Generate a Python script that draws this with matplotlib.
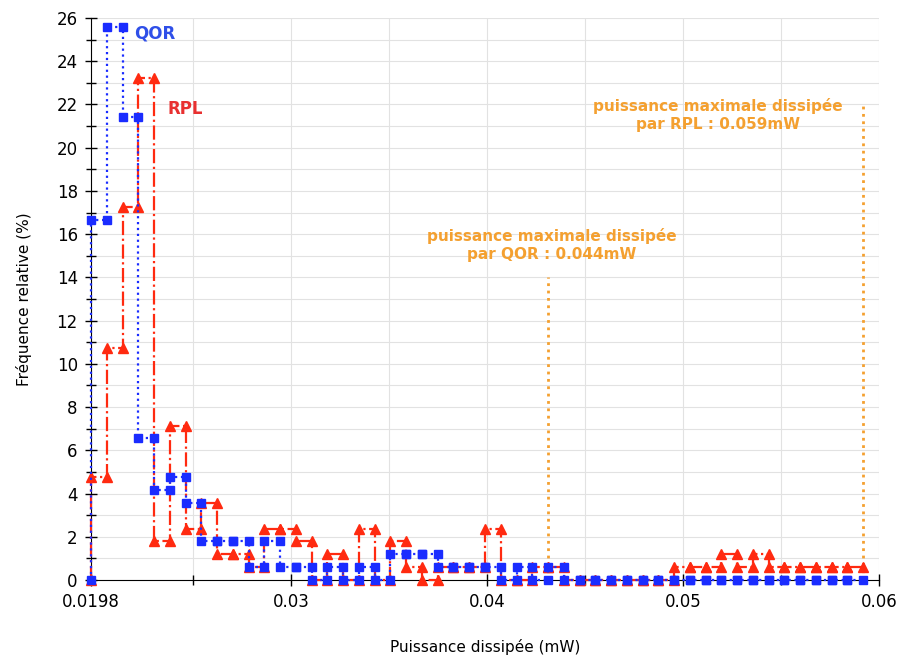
import numpy as np
import matplotlib
matplotlib.use("Agg")
import matplotlib.pyplot as plt
from matplotlib.ticker import FixedLocator

bin_start = 0.0198
bin_width = 0.000804

# relative frequency per bin (%)
qor_freq = [16.67, 25.60, 21.43, 6.55, 4.17, 4.76, 3.57, 1.79, 1.79, 1.79,
            0.60, 1.79, 0.60, 0.60, 0.00, 0.60, 0.00, 0.60, 0.00, 1.19,
            1.19, 1.19, 0.60, 0.60, 0.60, 0.60, 0.00, 0.60, 0.00, 0.60,
            0.00, 0.00, 0.00, 0.00, 0.00, 0.00, 0.00, 0.00, 0.00, 0.00,
            0.00, 0.00, 0.00, 0.00, 0.00, 0.00, 0.00, 0.00, 0.00]
rpl_freq = [4.76, 10.71, 17.26, 23.21, 1.79, 7.14, 2.38, 3.57, 1.19, 1.19,
            0.60, 2.38, 2.38, 1.79, 0.00, 1.19, 0.00, 2.38, 0.00, 1.79,
            0.60, 0.00, 0.60, 0.60, 0.60, 2.38, 0.00, 0.00, 0.60, 0.60,
            0.00, 0.00, 0.00, 0.00, 0.00, 0.00, 0.00, 0.60, 0.60, 0.60,
            1.19, 0.60, 1.19, 0.60, 0.60, 0.60, 0.60, 0.60, 0.60]

x_ticks = [0.0198, 0.03, 0.04, 0.05, 0.06]
x_ticklabels = ["0.0198", "0.03", "0.04", "0.05", "0.06"]
x_minor = [0.025, 0.035, 0.045, 0.055]

qor_max_x = 0.0431
rpl_max_x = 0.0592

blue = "#1a2cff"
red = "#ff2a10"
orange = "#f4a030"


def steps(freq):
    # markers on both edges of every bin, starting from zero on the first edge
    edges = bin_start + bin_width * np.arange(len(freq) + 1)
    xs = [edges[0]]
    ys = [0.0]
    for i, v in enumerate(freq):
        xs += [edges[i], edges[i + 1]]
        ys += [v, v]
    return xs, ys


fig = plt.figure(figsize=(9.05, 6.61), dpi=100)
ax = fig.add_axes([91 / 905, 1 - 580 / 661, (879 - 91) / 905, (580 - 18) / 661])

rx, ry = steps(rpl_freq)
bx, by = steps(qor_freq)
ax.plot(rx, ry, linestyle="-.", color=red, lw=1.6, marker="^", ms=7,
        clip_on=False, zorder=3)
ax.plot(bx, by, linestyle=":", color=blue, lw=1.6, marker="s", ms=6,
        clip_on=False, zorder=4)

# maximum dissipated power markers
ax.plot([qor_max_x, qor_max_x], [0, 14.0], linestyle=":", color=orange, lw=2, zorder=2)
ax.plot([rpl_max_x, rpl_max_x], [0, 22.0], linestyle=":", color=orange, lw=2, zorder=2)

ax.text(0.0433, 15.5, "puissance maximale dissipée\npar QOR : 0.044mW", color=orange,
        fontsize=11, fontweight="bold", ha="center", va="center", linespacing=1.25)
ax.text(0.0518, 21.5, "puissance maximale dissipée\npar RPL : 0.059mW", color=orange,
        fontsize=11, fontweight="bold", ha="center", va="center", linespacing=1.25)
ax.text(0.0220, 25.3, "QOR", color="#2f4fe8", fontsize=12, fontweight="bold",
        ha="left", va="center")
ax.text(0.0237, 21.8, "RPL", color="#e83030", fontsize=12, fontweight="bold",
        ha="left", va="center")

ax.set_xlim(0.0198, 0.06)
ax.set_ylim(0, 26)
ax.set_xticks(x_ticks)
ax.set_xticklabels(x_ticklabels)
ax.xaxis.set_minor_locator(FixedLocator(x_minor))
ax.set_yticks(range(0, 27, 2))
ax.yaxis.set_minor_locator(FixedLocator(list(range(1, 26, 2))))

ax.tick_params(which="major", direction="inout", length=9, width=1, labelsize=12, pad=5)
ax.tick_params(which="minor", direction="inout", length=7, width=1)

ax.grid(which="both", color="#e2e2e2", lw=0.8, zorder=0)
ax.set_axisbelow(True)
for s in ["top", "right"]:
    ax.spines[s].set_visible(False)

ax.set_xlabel("Puissance dissipée (mW)", fontsize=11, labelpad=20)
ax.set_ylabel("Fréquence relative (%)", fontsize=11, labelpad=18)

fig.savefig("out.png", dpi=100)
